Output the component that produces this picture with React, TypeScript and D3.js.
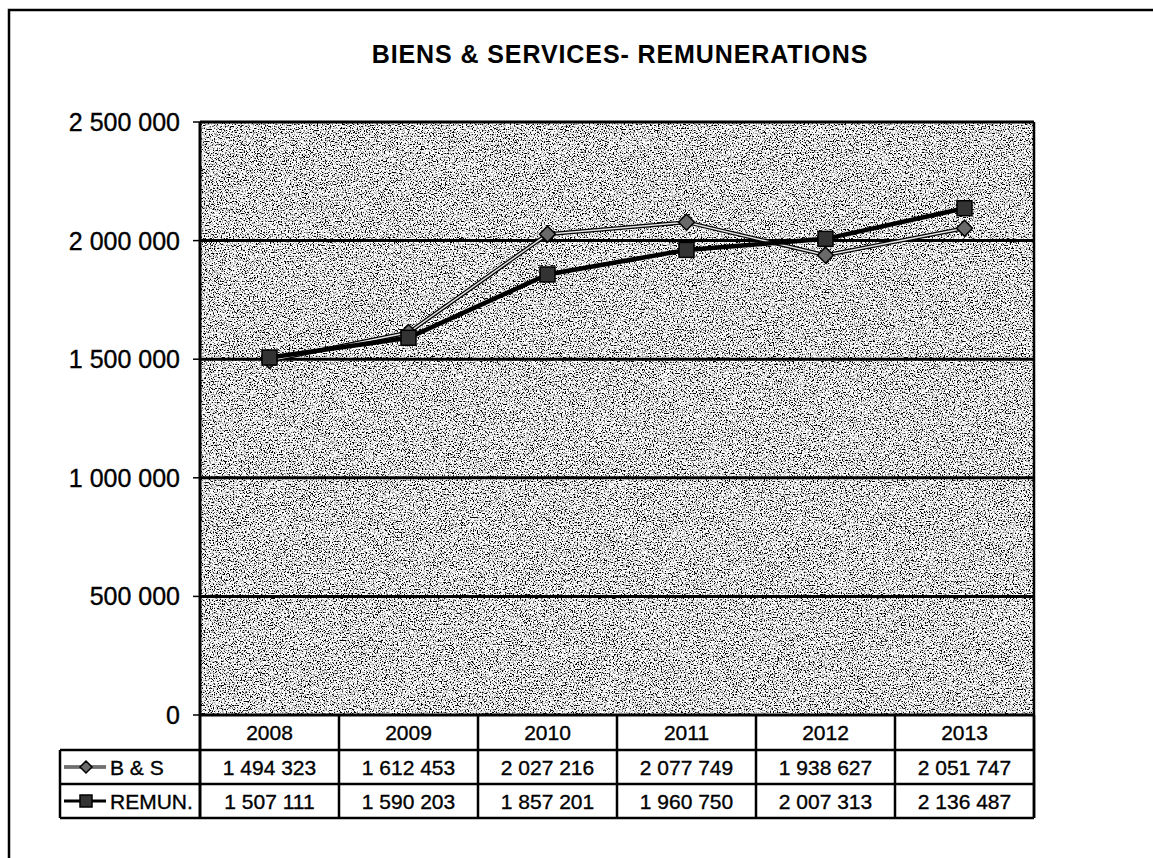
import React from "react";
import * as d3 from "d3";

const years = ["2008", "2009", "2010", "2011", "2012", "2013"];
const bsValues = [1494323, 1612453, 2027216, 2077749, 1938627, 2051747];
const remunValues = [1507111, 1590203, 1857201, 1960750, 2007313, 2136487];
const yTicks = [0, 500000, 1000000, 1500000, 2000000, 2500000];
const seriesNames = ["B & S", "REMUN."];
const title = "BIENS & SERVICES- REMUNERATIONS";

const W = 1153;
const H = 858;
const plot = { left: 200, right: 1034, top: 122, bottom: 715 };
const rowH = 34;
const legendLeft = 60;
const FONT = "'Liberation Sans', Arial, sans-serif";

const fmt = (v: number) => d3.format(",")(v).replace(/,/g, " ");

export default function App() {
  const x = d3.scaleBand<string>().domain(years).range([plot.left, plot.right]);
  const y = d3.scaleLinear().domain([0, 2500000]).range([plot.bottom, plot.top]);
  const cx = (d: string) => (x(d) as number) + x.bandwidth() / 2;

  const line = d3
    .line<number>()
    .x((_, i) => cx(years[i]))
    .y((v) => y(v));

  const headerBottom = plot.bottom + 35;
  const row1Bottom = headerBottom + rowH;
  const row2Bottom = row1Bottom + rowH;

  const diamond = (px: number, py: number, r: number) =>
    `M${px},${py - r}L${px + r},${py}L${px},${py + r}L${px - r},${py}Z`;

  const txt = { stroke: "#000", strokeWidth: 0.35 };

  return (
    <svg
      width={W}
      height={H}
      style={{ position: "absolute", left: 0, top: 0, background: "#fff" }}
      fontFamily={FONT}
    >
      <defs>
        <filter id="grain" x="0" y="0" width="1" height="1" filterUnits="objectBoundingBox">
          <feTurbulence type="fractalNoise" baseFrequency="0.75" numOctaves="3" seed="7" />
          <feColorMatrix
            type="matrix"
            values="5.5 0 0 0 -1.95  5.5 0 0 0 -1.95  5.5 0 0 0 -1.95  0 0 0 0 1"
          />
        </filter>
      </defs>

      {/* outer frame */}
      <rect x={9} y={10} width={1200} height={900} fill="#fff" stroke="#000" strokeWidth={2.5} />

      <text x={620} y={63} textAnchor="middle" fontSize={25} fontWeight="bold" letterSpacing={0.9}>
        {title}
      </text>

      {/* plot area */}
      <rect
        x={plot.left}
        y={plot.top}
        width={plot.right - plot.left}
        height={plot.bottom - plot.top}
        filter="url(#grain)"
        fill="#a0a0a0"
      />

      {/* gridlines */}
      {yTicks.map((t) => (
        <g key={t}>
          <line x1={plot.left} x2={plot.right} y1={y(t)} y2={y(t)} stroke="#000" strokeWidth={3} />
          <line x1={plot.left - 7} x2={plot.left} y1={y(t)} y2={y(t)} stroke="#000" strokeWidth={1.5} />
          <text x={180} y={y(t)} dy="0.36em" textAnchor="end" fontSize={25} {...txt}>
            {fmt(t)}
          </text>
        </g>
      ))}

      {/* plot border */}
      <line x1={plot.left} x2={plot.left} y1={plot.top} y2={row2Bottom} stroke="#000" strokeWidth={3} />
      <line x1={plot.right} x2={plot.right} y1={plot.top} y2={row2Bottom} stroke="#000" strokeWidth={2.5} />

      {/* B&S line */}
      <path d={line(bsValues) || ""} fill="none" stroke="#000" strokeWidth={4} />
      <path d={line(bsValues) || ""} fill="none" stroke="#e6e6e6" strokeWidth={1.5} />
      {/* REMUN line */}
      <path d={line(remunValues) || ""} fill="none" stroke="#000" strokeWidth={4.5} />

      {bsValues.map((v, i) => (
        <path
          key={"bs" + i}
          d={diamond(cx(years[i]), y(v), 8)}
          fill="#6a6a6a"
          stroke="#000"
          strokeWidth={1.5}
        />
      ))}
      {remunValues.map((v, i) => (
        <rect
          key={"rm" + i}
          x={cx(years[i]) - 7.5}
          y={y(v) - 7.5}
          width={15}
          height={15}
          fill="#333"
          stroke="#000"
          strokeWidth={1.5}
        />
      ))}

      {/* data table */}
      <line x1={legendLeft} x2={plot.right} y1={headerBottom} y2={headerBottom} stroke="#000" strokeWidth={2.5} />
      <line x1={legendLeft} x2={plot.right} y1={row1Bottom} y2={row1Bottom} stroke="#000" strokeWidth={2.5} />
      <line x1={legendLeft} x2={plot.right} y1={row2Bottom} y2={row2Bottom} stroke="#000" strokeWidth={2.5} />
      <line x1={legendLeft} x2={legendLeft} y1={headerBottom} y2={row2Bottom} stroke="#000" strokeWidth={2.5} />
      {years.map((yr) => (
        <g key={yr}>
          <line
            x1={(x(yr) as number) + x.bandwidth()}
            x2={(x(yr) as number) + x.bandwidth()}
            y1={plot.bottom}
            y2={row2Bottom}
            stroke="#000"
            strokeWidth={2.5}
          />
          <text x={cx(yr)} y={(plot.bottom + headerBottom) / 2} dy="0.36em" textAnchor="middle" fontSize={21} {...txt}>
            {yr}
          </text>
        </g>
      ))}
      {bsValues.map((v, i) => (
        <text key={"tb" + i} x={cx(years[i])} y={(headerBottom + row1Bottom) / 2} dy="0.36em" textAnchor="middle" fontSize={21} {...txt}>
          {fmt(v)}
        </text>
      ))}
      {remunValues.map((v, i) => (
        <text key={"tr" + i} x={cx(years[i])} y={(row1Bottom + row2Bottom) / 2} dy="0.36em" textAnchor="middle" fontSize={21} {...txt}>
          {fmt(v)}
        </text>
      ))}

      {/* legend keys */}
      <g>
        <line x1={64} x2={106} y1={(headerBottom + row1Bottom) / 2} y2={(headerBottom + row1Bottom) / 2} stroke="#000" strokeWidth={3} />
        <line x1={64} x2={106} y1={(headerBottom + row1Bottom) / 2} y2={(headerBottom + row1Bottom) / 2} stroke="#ddd" strokeWidth={1} />
        <path d={diamond(86, (headerBottom + row1Bottom) / 2, 6)} fill="#6a6a6a" stroke="#000" strokeWidth={1.5} />
        <text x={110} y={(headerBottom + row1Bottom) / 2} dy="0.36em" fontSize={21} {...txt}>
          {seriesNames[0]}
        </text>
        <line x1={64} x2={106} y1={(row1Bottom + row2Bottom) / 2} y2={(row1Bottom + row2Bottom) / 2} stroke="#000" strokeWidth={3} />
        <rect x={80} y={(row1Bottom + row2Bottom) / 2 - 6} width={12} height={12} fill="#333" stroke="#000" strokeWidth={1.5} />
        <text x={110} y={(row1Bottom + row2Bottom) / 2} dy="0.36em" fontSize={21} {...txt}>
          {seriesNames[1]}
        </text>
      </g>
    </svg>
  );
}
